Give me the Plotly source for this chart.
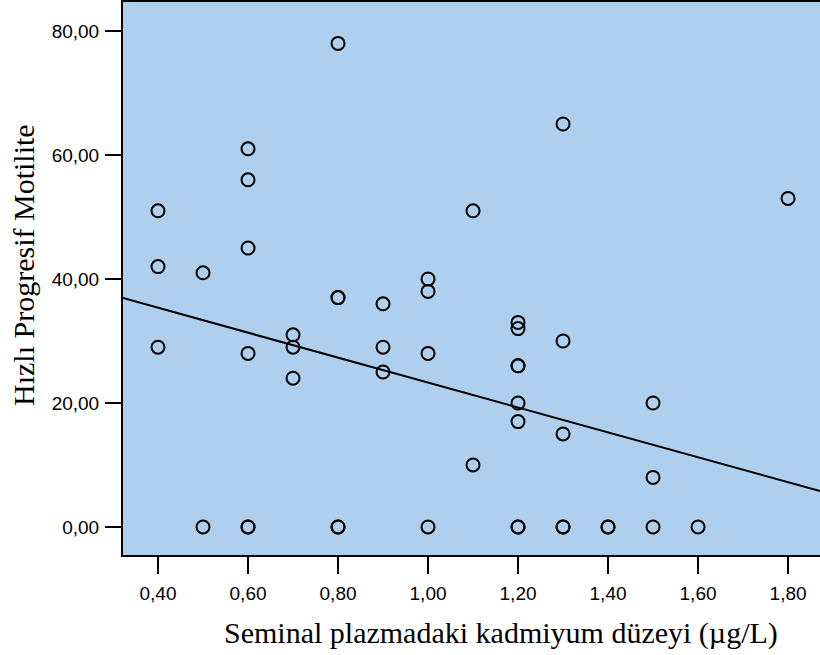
import plotly.graph_objects as go

# Seminal plasma cadmium (µg/L) vs. rapid progressive motility (%)
cadmium = [
    0.40, 0.40, 0.40,
    0.50, 0.50,
    0.60, 0.60, 0.60, 0.60, 0.60, 0.60,
    0.70, 0.70, 0.70,
    0.80, 0.80, 0.80, 0.80, 0.80,
    0.90, 0.90, 0.90,
    1.00, 1.00, 1.00, 1.00,
    1.10, 1.10,
    1.20, 1.20, 1.20, 1.20, 1.20, 1.20, 1.20, 1.20,
    1.30, 1.30, 1.30, 1.30, 1.30,
    1.40, 1.40,
    1.50, 1.50, 1.50,
    1.60,
    1.80,
]
motility = [
    51, 42, 29,
    41, 0,
    61, 56, 45, 28, 0, 0,
    31, 29, 24,
    78, 37, 37, 0, 0,
    36, 29, 25,
    40, 38, 28, 0,
    51, 10,
    33, 32, 26, 26, 20, 17, 0, 0,
    65, 30, 15, 0, 0,
    0, 0,
    20, 8, 0,
    0,
    53,
]

# Linear fit line (intercept, slope)
fit_intercept = 43.4
fit_slope = -20.1

x_range = [0.3222, 1.871]
y_range = [-4.52, 84.68]

x_ticks = [0.4, 0.6, 0.8, 1.0, 1.2, 1.4, 1.6, 1.8]
y_ticks = [0, 20, 40, 60, 80]

x_title = "Seminal plazmadaki kadmiyum düzeyi (µg/L)"
y_title = "Hızlı Progresif Motilite"

serif = "Liberation Serif, Times New Roman, serif"

fig = go.Figure()

fig.add_trace(go.Scatter(
    x=x_range,
    y=[fit_intercept + fit_slope * v for v in x_range],
    mode="lines",
    line=dict(color="black", width=2),
    hoverinfo="skip",
    showlegend=False,
))

fig.add_trace(go.Scatter(
    x=cadmium,
    y=motility,
    mode="markers",
    marker=dict(symbol="circle-open", size=13, color="black",
                line=dict(width=2, color="black")),
    showlegend=False,
))

fig.update_layout(
    width=820,
    height=655,
    margin=dict(l=123, r=0, t=2, b=100),
    paper_bgcolor="white",
    plot_bgcolor="#AECFEE",
    separators=",.",
    font=dict(family="Liberation Sans, Arial, sans-serif", color="black", size=19),
    xaxis=dict(
        range=x_range,
        tickvals=x_ticks,
        tickformat=".2f",
        ticks="outside",
        ticklen=17,
        tickwidth=2,
        tickcolor="black",
        ticklabelstandoff=3,
        showline=True,
        linecolor="black",
        linewidth=2,
        mirror=True,
        showgrid=False,
        zeroline=False,
    ),
    yaxis=dict(
        range=y_range,
        tickvals=y_ticks,
        tickformat=".2f",
        ticks="outside",
        ticklen=16,
        tickwidth=2,
        tickcolor="black",
        ticklabelstandoff=2,
        showline=True,
        linecolor="black",
        linewidth=2,
        showgrid=False,
        zeroline=False,
    ),
    annotations=[
        dict(
            text=x_title, xref="paper", yref="paper",
            x=0.5423, y=-0.141, xanchor="center", yanchor="middle",
            showarrow=False, font=dict(family=serif, size=30),
        ),
        dict(
            text=y_title, xref="paper", yref="paper",
            x=-0.1435, y=0.5244, xanchor="center", yanchor="middle",
            textangle=-90, showarrow=False, font=dict(family=serif, size=30),
        ),
    ],
)

fig.write_html("out.html")
